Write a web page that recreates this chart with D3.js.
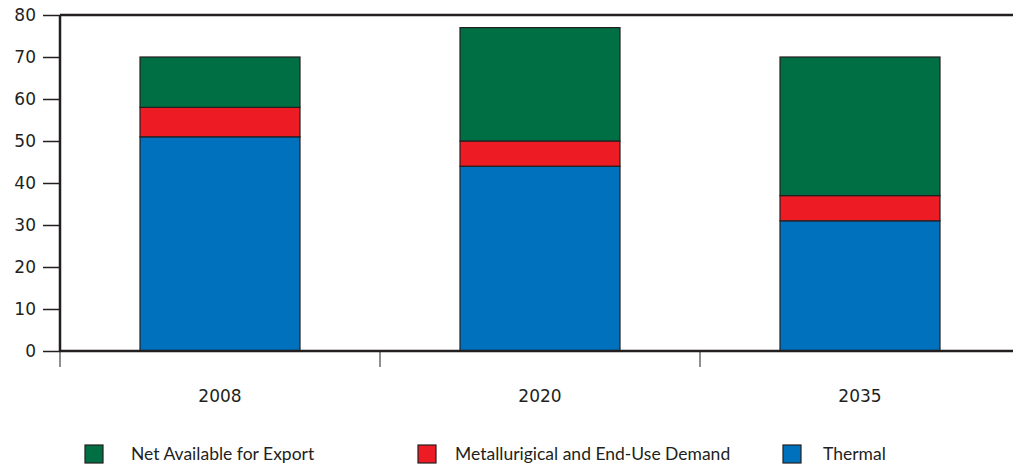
<!DOCTYPE html>
<html><head><meta charset="utf-8">
<script src="https://cdn.jsdelivr.net/npm/d3@7"></script>
<style>body{margin:0;background:#fff}svg{display:block}text{font-family:Lato,"Open Sans",sans-serif;fill:#231f20}</style>
</head><body><svg id="c" width="1013" height="466"></svg>
<script>
const categories = ["2008","2020","2035"];
const seriesNames = ["Thermal","Metallurigical and End-Use Demand","Net Available for Export"];
const thermal = [51,44,31];
const metallurgical = [7,6,6];
const netExport = [12,27,33];
const yTicks = [0,10,20,30,40,50,60,70,80];
const colors = ["#0071bc","#ed1c24","#006f44"];

const numFont = "'DejaVu Sans',sans-serif";
const svg = d3.select("#c");
const x0 = 60, x1 = 1020, yTop = 15, yBot = 351;
const x = d3.scaleBand().domain(categories).range([x0,x1]).paddingInner(0).paddingOuter(0);
const y = d3.scaleLinear().domain([0,80]).range([yBot,yTop]);

const rows = categories.map((c,i)=>({cat:c, Thermal:thermal[i], "Metallurigical and End-Use Demand":metallurgical[i], "Net Available for Export":netExport[i]}));
const stack = d3.stack().keys(seriesNames)(rows);
const bw = x.bandwidth()/2;

stack.forEach((s,si)=>{
  svg.append("g").selectAll("rect").data(s).join("rect")
    .attr("x", d=>x(d.data.cat)+x.bandwidth()/2-bw/2)
    .attr("width", bw)
    .attr("y", d=>y(d[1]))
    .attr("height", d=>y(d[0])-y(d[1]))
    .attr("fill", colors[si])
    .attr("stroke","#231f20").attr("stroke-width",1.2);
});

// axes
svg.append("line").attr("x1",x0).attr("x2",1013).attr("y1",yTop).attr("y2",yTop).attr("stroke","#231f20").attr("stroke-width",2.5);
svg.append("line").attr("x1",x0).attr("x2",1013).attr("y1",yBot).attr("y2",yBot).attr("stroke","#231f20").attr("stroke-width",2.5);
svg.append("line").attr("x1",x0).attr("x2",x0).attr("y1",yTop).attr("y2",yBot).attr("stroke","#231f20").attr("stroke-width",2.5);

const ya = svg.append("g").attr("transform",`translate(${x0},0)`)
  .call(d3.axisLeft(y).tickValues(yTicks).tickSize(17).tickPadding(7).tickFormat(d3.format("d")));
ya.select(".domain").remove();
ya.selectAll(".tick line").attr("stroke","#231f20").attr("stroke-width",1.5);
ya.selectAll(".tick text").attr("font-size",17).style("font-family",numFont).attr("fill","#231f20");

// x ticks at band boundaries
svg.append("g").selectAll("line").data(categories).join("line")
  .attr("x1",d=>x(d)).attr("x2",d=>x(d)).attr("y1",yBot).attr("y2",367)
  .attr("stroke","#231f20").attr("stroke-width",1);
svg.append("g").selectAll("text").data(categories).join("text")
  .attr("x",d=>x(d)+x.bandwidth()/2).attr("y",402).attr("text-anchor","middle")
  .attr("font-size",17).style("font-family",numFont).text(d=>d);

// legend
const legend = [
  {name:"Net Available for Export", color:colors[2], sx:85, tx:131},
  {name:"Metallurigical and End-Use Demand", color:colors[1], sx:418, tx:455},
  {name:"Thermal", color:colors[0], sx:783, tx:823}
];
const lg = svg.append("g").selectAll("g").data(legend).join("g");
lg.append("rect").attr("x",d=>d.sx).attr("y",445).attr("width",18).attr("height",18)
  .attr("fill",d=>d.color).attr("stroke","#231f20").attr("stroke-width",1.2);
lg.append("text").attr("x",d=>d.tx).attr("y",460).attr("font-size",17.5).text(d=>d.name);
</script></body></html>
